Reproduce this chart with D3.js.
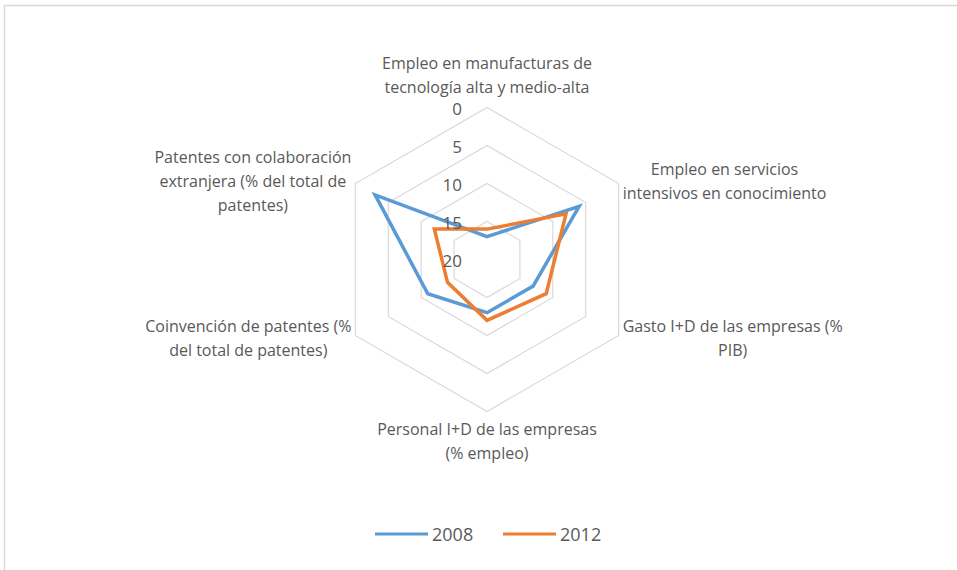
<!DOCTYPE html>
<html lang="es">

<head>
  <meta charset="UTF-8">
  <title>Radar</title>
  <style>
    body { margin: 0; background: #fff; }
    text { font-family: "Open Sans", sans-serif; fill: #595959; }
  </style>
</head>

<body>
  <svg width="957" height="570"></svg>
  <script src="https://d3js.org/d3.v7.min.js"></script>
  <script>
    // datos
    var categories = [
      ["Empleo en manufacturas de", "tecnología alta y medio-alta"],
      ["Empleo en servicios", "intensivos en conocimiento"],
      ["Gasto I+D de las empresas (%", "PIB)"],
      ["Personal I+D de las empresas", "(% empleo)"],
      ["Coinvención de patentes (%", "del total de patentes)"],
      ["Patentes con colaboración", "extranjera (% del total de", "patentes)"]
    ];
    var values2008 = [17, 6, 13, 13, 11, 3];
    var values2012 = [16, 8, 11, 12, 14, 12];
    var years = ["2008", "2012"];
    var tickValues = [0, 5, 10, 15, 20];

    var svg = d3.select("svg");
    var cx = 487, cy = 259.5, R = 152;
    var colors = d3.scaleOrdinal().domain(years).range(["#5B9BD5", "#ED7D31"]);

    // marco del gráfico
    svg.append("path")
      .attr("d", "M4.5,570 V5.5 H957")
      .attr("fill", "none")
      .attr("stroke", "#d9d9d9")
      .attr("stroke-width", 1.5);

    var g = svg.append("g").attr("transform", "translate(" + cx + "," + cy + ")");

    // escala invertida: 0 en el borde, 20 en el centro
    var r = d3.scaleLinear().domain([0, 20]).range([R, 0]);
    var angle = d3.scaleLinear().domain([0, categories.length]).range([0, 2 * Math.PI]);

    var radial = d3.lineRadial()
      .angle(function (d, i) { return angle(i); })
      .radius(function (d) { return r(d); })
      .curve(d3.curveLinearClosed);

    // rejilla hexagonal
    g.append("g").selectAll("path")
      .data(tickValues.slice(0, -1))
      .enter()
      .append("path")
      .attr("d", function (t) { return radial(categories.map(function () { return t; })); })
      .attr("fill", "none")
      .attr("stroke", "#d9d9d9")
      .attr("stroke-width", 1.2);

    // series
    var series = [values2008, values2012];
    g.append("g").selectAll("path")
      .data(series)
      .enter()
      .append("path")
      .attr("d", function (d) { return radial(d); })
      .attr("fill", "none")
      .attr("stroke", function (d, i) { return colors(years[i]); })
      .attr("stroke-width", 3.5)
      .attr("stroke-linejoin", "miter");

    // etiquetas del eje
    g.append("g").selectAll("text")
      .data(tickValues)
      .enter()
      .append("text")
      .attr("x", -25)
      .attr("y", function (t) { return -r(t) + 1; })
      .attr("text-anchor", "end")
      .attr("dominant-baseline", "central")
      .style("font-size", "17px")
      .text(function (t) { return t; });

    // etiquetas de categorías
    var lineH = 24;
    categories.forEach(function (lines, i) {
      var a = angle(i);
      var vx = R * Math.sin(a), vy = -R * Math.cos(a);
      var t = g.append("text").style("font-size", "16px").attr("text-anchor", "middle");
      var spans = lines.map(function (l) {
        return t.append("tspan").attr("dominant-baseline", "central").text(l);
      });
      var maxW = d3.max(spans, function (s) { return s.node().getComputedTextLength(); });
      var x, y0;
      var s = Math.sin(a);
      if (Math.abs(s) < 0.01) {
        x = 0;
        // arriba o abajo
        y0 = vy < 0 ? vy - 21 - (lines.length - 1) * lineH : vy + 17;
      } else {
        x = vx + (s > 0 ? 1 : -1) * (4 + maxW / 2);
        y0 = vy - 5 * Math.cos(a) - (lines.length - 1) * lineH / 2;
      }
      spans.forEach(function (sp, k) {
        sp.attr("x", x).attr("y", y0 + k * lineH);
      });
    });

    // leyenda
    var legend = svg.append("g").attr("transform", "translate(375,534)");
    var items = legend.selectAll("g")
      .data(years)
      .enter()
      .append("g")
      .attr("transform", function (d, i) { return "translate(" + (i * 128) + ",0)"; });
    items.append("line")
      .attr("x1", 0).attr("x2", 53)
      .attr("stroke", function (d) { return colors(d); })
      .attr("stroke-width", 3.2);
    items.append("text")
      .attr("x", 57)
      .attr("dominant-baseline", "central")
      .style("font-size", "18px")
      .text(function (d) { return d; });
  </script>
</body>

</html>
